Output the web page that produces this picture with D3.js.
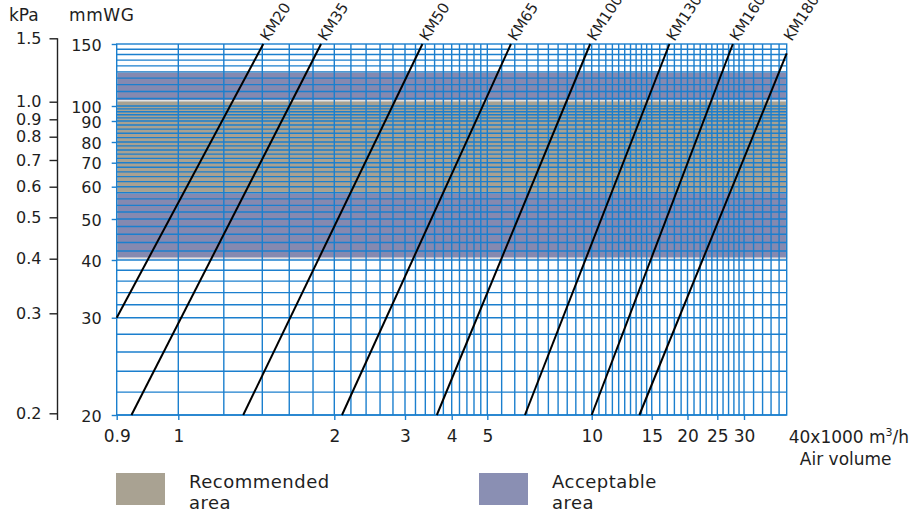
<!DOCTYPE html>
<html>
<head>
<meta charset="utf-8">
<script src="https://cdn.jsdelivr.net/npm/d3@7"></script>
<style>
  body { margin: 0; background: #fff; }
  text { font-family: "DejaVu Sans", sans-serif; fill: #1e1e1e; }
</style>
</head>
<body>
<div id="chart"></div>
<script>
// chart.js - fan selection chart (air volume vs pressure)

const width = 915;
const height = 515;

// Axis ticks
const xTicks = [0.9, 1, 2, 3, 4, 5, 10, 15, 20, 25, 30];
const mmTicks = [20, 30, 40, 50, 60, 70, 80, 90, 100, 150];
const kpaTicks = [0.2, 0.3, 0.4, 0.5, 0.6, 0.7, 0.8, 0.9, 1.0, 1.5];

// Model lines: start / end points (air volume x1000 m3/h, pressure mmWG)
const models = ["KM20", "KM35", "KM50", "KM65", "KM100", "KM130", "KM160", "KM180"];
const flowStart = [0.9, 0.923, 1.297, 2.09, 3.65, 6.42, 10, 13.8];
const pressStart = [30, 20, 20, 20, 20, 20, 20, 20];
const flowEnd = [1.407, 1.873, 3.34, 5.85, 9.9, 17.3, 27.8, 40];
const pressEnd = [150, 150, 150, 150, 150, 150, 150, 141];

// Shaded areas (mmWG)
const areaNames = ["Acceptable\narea", "Recommended\narea"];
const areaLow = [40.4, 58];
const areaHigh = [125, 103.5];
const areaColors = ["#8589b0", "#a8a191"];

let svg = null;

function buildChart() {
    svg = d3.select("#chart").append("svg")
        .attr("width", width)
        .attr("height", height);

    // the printed grid is a stretched log paper, so the scales are piecewise log
    const x = d3.scaleLog()
        .domain([0.9, 1, 1.4, 2, 3, 4, 5, 10, 15, 20, 25, 30, 40])
        .range([116.7, 178.3, 262.3, 334.3, 405, 451.7, 487.3, 591.7, 651.7, 687.5, 717.3, 744, 786.7]);

    const y = d3.scaleLog()
        .domain([20, 30, 40, 50, 60, 70, 80, 90, 100, 150])
        .range([415, 317.7, 260, 219, 186.7, 162.7, 142, 121, 106, 44]);

    const yKpa = d3.scaleLog()
        .domain([0.2, 0.3, 0.4, 0.5, 0.6, 0.7, 0.8, 0.9, 1.0, 1.5])
        .range([413.3, 313.3, 258.7, 217.3, 186.7, 160, 136.7, 119.3, 101.7, 38.3]);

    const [x0, x1] = [x(0.9), x(40)];
    const [yTop, yBot] = [y(150), y(20)];

    // shaded bands (behind the grid)
    svg.append("g").selectAll("rect")
        .data(areaLow)
        .enter().append("rect")
        .attr("x", x0)
        .attr("width", x1 - x0)
        .attr("y", (d, i) => y(areaHigh[i]))
        .attr("height", (d, i) => y(d) - y(areaHigh[i]))
        .attr("fill", (d, i) => areaColors[i])
        .attr("stroke", "#e2e2e2")
        .attr("stroke-width", 1.5);

    // grid lines
    const xGrid = [].concat(
        d3.range(1, 5, 0.2), d3.range(5, 15, 0.5), d3.range(15, 30, 1), d3.range(30, 40, 2));
    const yGrid = [].concat(d3.range(20, 100, 2), d3.range(100, 150, 5));

    const grid = svg.append("g")
        .attr("stroke", "#1b7fce")
        .attr("stroke-width", 1.4);

    grid.selectAll(".vx").data(xGrid).enter().append("line")
        .attr("x1", d => x(d)).attr("x2", d => x(d))
        .attr("y1", yTop).attr("y2", yBot);

    grid.selectAll(".hy").data(yGrid).enter().append("line")
        .attr("x1", x0).attr("x2", x1)
        .attr("y1", d => y(d)).attr("y2", d => y(d));

    grid.append("rect")
        .attr("x", x0).attr("y", yTop)
        .attr("width", x1 - x0).attr("height", yBot - yTop)
        .attr("fill", "none");

    // axes
    const xAxis = svg.append("g")
        .attr("transform", `translate(0,${yBot})`)
        .call(d3.axisBottom(x).tickValues(xTicks).tickSize(5).tickPadding(10).tickFormat(d => d))
        .call(g => g.select(".domain").remove());

    const mmAxis = svg.append("g")
        .attr("transform", `translate(${x0},0)`)
        .call(d3.axisLeft(y).tickValues(mmTicks).tickSize(5).tickPadding(10).tickFormat(d => d))
        .call(g => g.select(".domain").remove());

    const kpaAxis = svg.append("g")
        .attr("transform", "translate(57.5,0)")
        .call(d3.axisLeft(yKpa).tickValues(kpaTicks).tickSize(8).tickSizeOuter(0).tickPadding(8).tickFormat(d3.format(".1f")))
        .call(g => g.select(".domain").remove());

    kpaAxis.append("line")
        .attr("y1", yKpa(1.5)).attr("y2", yBot + 5)
        .attr("stroke", "#222").attr("stroke-width", 1.4);

    xAxis.selectAll(".tick line").attr("stroke", "#1b7fce").attr("stroke-width", 1.4);
    mmAxis.selectAll(".tick line").attr("stroke", "#1b7fce").attr("stroke-width", 1.4);
    kpaAxis.selectAll(".tick line").attr("stroke", "#222").attr("stroke-width", 1.4);
    svg.selectAll(".tick text").style("font-size", "16px").style("font-family", "DejaVu Sans").attr("fill", "#1e1e1e");
    xAxis.selectAll(".tick text").style("font-size", "17px");
    mmAxis.selectAll(".tick text").attr("dy", "0.38em");

    // axis titles
    svg.append("text").attr("x", 9).attr("y", 21).style("font-size", "17px").text("kPa");
    svg.append("text").attr("x", 69).attr("y", 21).style("font-size", "17px")
        .style("letter-spacing", "0.6px").text("mmWG");

    const xTitle = svg.append("text")
        .attr("x", x1 + 2).attr("y", yBot + 28)
        .style("font-size", "17px");
    xTitle.append("tspan").text("40x1000 m");
    xTitle.append("tspan").attr("dy", -7).style("font-size", "11px").text("3");
    xTitle.append("tspan").attr("dy", 7).text("/h");

    svg.append("text")
        .attr("x", x1 + 59).attr("y", yBot + 50)
        .attr("text-anchor", "middle")
        .style("font-size", "17px")
        .text("Air volume");

    // model lines
    const line = d3.line()
        .x(d => x(d[0]))
        .y(d => y(d[1]));

    svg.append("g").selectAll("path")
        .data(models)
        .enter().append("path")
        .attr("fill", "none")
        .attr("stroke", "#000")
        .attr("stroke-width", 2)
        .attr("d", (d, i) => line([[flowStart[i], pressStart[i]], [flowEnd[i], pressEnd[i]]]));

    svg.append("g").selectAll("text")
        .data(models)
        .enter().append("text")
        .attr("transform", (d, i) => `translate(${x(flowEnd[i]) + 5},${yTop - 2}) rotate(-57)`)
        .style("font-size", "15px")
        .text(d => d);

    // legend
    const legend = svg.append("g");
    const legendX = [116, 479];
    [1, 0].forEach((k, j) => {
        legend.append("rect")
            .attr("x", legendX[j]).attr("y", 473)
            .attr("width", 49).attr("height", 32)
            .attr("fill", k === 1 ? "#a9a292" : "#8a8fb3");
        const t = legend.append("text")
            .attr("x", legendX[j] + 73).attr("y", 488)
            .style("font-size", "18px")
            .style("letter-spacing", "0.5px");
        areaNames[k].split("\n").forEach((s, n) => {
            t.append("tspan").attr("x", legendX[j] + 73).attr("dy", n ? 21 : 0).text(s);
        });
    });
}

buildChart();
</script>
</body>
</html>
